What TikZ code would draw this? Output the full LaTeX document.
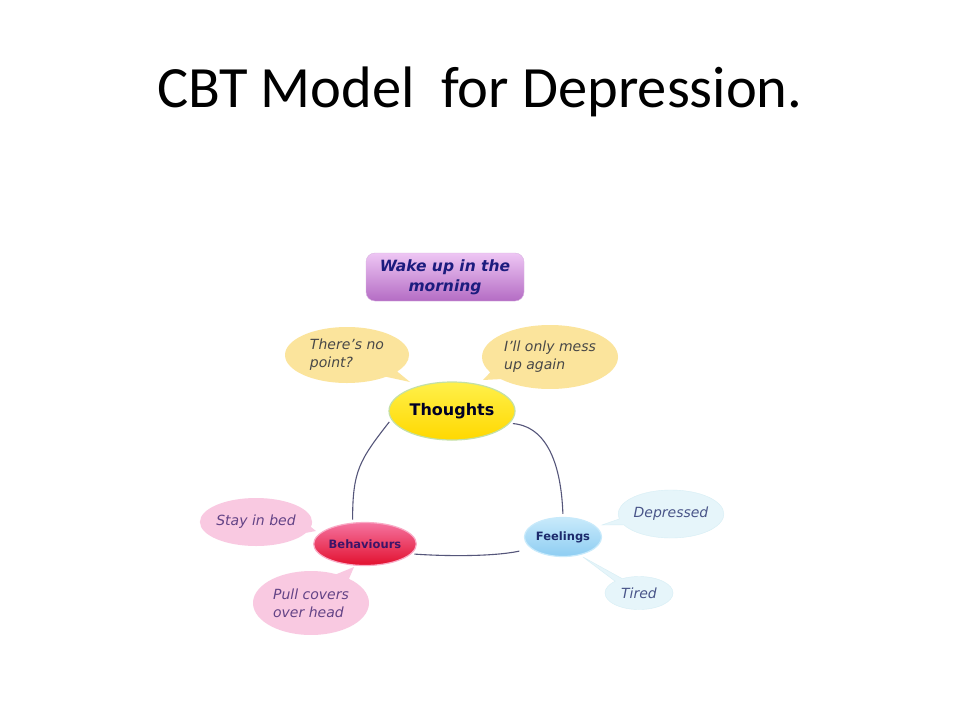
\documentclass[tikz,border=0pt]{standalone}
\usepackage{fontspec}
\setmainfont{DejaVu Sans}
\newfontfamily\titlefont{Carlito}
\usetikzlibrary{shapes.geometric, shapes.callouts}

\definecolor{wakeTop}{HTML}{EEC6F4}
\definecolor{wakeBottom}{HTML}{B46CC4}
\definecolor{wakeText}{HTML}{1C1C7E}
\definecolor{thoughtTop}{HTML}{FFF04A}
\definecolor{thoughtBottom}{HTML}{FFD800}
\definecolor{thoughtRing}{HTML}{C4E0A6}
\definecolor{behavTop}{HTML}{F573A0}
\definecolor{behavBottom}{HTML}{E2102E}
\definecolor{behavText}{HTML}{3C1468}
\definecolor{feelTop}{HTML}{C8EAFB}
\definecolor{feelBottom}{HTML}{8ECDF2}
\definecolor{feelText}{HTML}{1C2A6C}
\definecolor{yellowBubble}{HTML}{FBE49C}
\definecolor{pinkBubble}{HTML}{F9C9E1}
\definecolor{blueBubble}{HTML}{E6F5FA}
\definecolor{blueEdge}{HTML}{D6EEF5}
\definecolor{linkGray}{HTML}{55567A}

\tikzset{
	hub/.style={ellipse, line width=1.2pt, inner sep=0pt},
	bubble/.style={ellipse callout, inner sep=0pt, align=left,
		font=\itshape\fontsize{14}{18}\selectfont},
	link/.style={draw=linkGray, line width=1.1pt, shorten >=3pt, shorten <=3pt}
}

\begin{document}
\begin{tikzpicture}[x=1pt, y=-1pt]
	\useasboundingbox[fill=white] (0,0) rectangle (960,720);

	\node[anchor=base, font=\titlefont\fontsize{58.5}{62}\selectfont] (title) at (480,107) {CBT Model\ \ for Depression.};

	\node[rectangle, rounded corners=9pt, top color=wakeTop, bottom color=wakeBottom, draw=wakeBottom!50,
		minimum width=158pt, minimum height=48pt, align=center, text=wakeText,
		font=\bfseries\itshape\fontsize{15.5}{20}\selectfont] (wake) at (445,277) {Wake up in the\\morning};

	% Centres
	\node[hub, top color=thoughtTop, bottom color=thoughtBottom, draw=thoughtRing,
		minimum width=126pt, minimum height=58pt, text=black!85!blue,
		font=\bfseries\fontsize{16}{18}\selectfont] (thoughts) at (452,411) {Thoughts};
	\node[hub, top color=behavTop, bottom color=behavBottom, draw=behavTop!60,
		minimum width=94pt, minimum height=43pt, text=behavText,
		font=\bfseries\fontsize{11.5}{13}\selectfont] (behaviours) at (365,544) {Behaviours};
	\node[hub, top color=feelTop, bottom color=feelBottom, draw=feelTop,
		minimum width=77pt, minimum height=39pt, text=feelText,
		font=\bfseries\fontsize{11.5}{13}\selectfont] (feelings) at (563,537) {Feelings};

	% Tips of the bubbles
	\coordinate (tipNoPoint) at (410,382);
	\coordinate (tipMess) at (483,380);
	\coordinate (tipBed) at (316,531);
	\coordinate (tipCovers) at (354,567);
	\coordinate (tipDepressed) at (602,525);
	\coordinate (tipTired) at (583,557);

	% Bubbles
	\node[bubble, fill=yellowBubble, text=black!72, minimum width=124pt, minimum height=56pt,
		callout absolute pointer={(tipNoPoint)}] (nopoint) at (347,355) {There's no\\point?};
	\node[bubble, fill=yellowBubble, text=black!72, minimum width=136pt, minimum height=64pt,
		callout absolute pointer={(tipMess)}] (mess) at (550,357) {I'll only mess\\up again};
	\node[bubble, fill=pinkBubble, text=behavText!80, minimum width=110pt, minimum height=48pt,
		callout absolute pointer={(tipBed)}] (bed) at (256,522) {Stay in bed};
	\node[bubble, fill=pinkBubble, text=behavText!80, minimum width=116pt, minimum height=64pt,
		callout absolute pointer={(tipCovers)}] (covers) at (311,603) {Pull covers\\over head};
	\node[bubble, fill=blueBubble, draw=blueEdge, text=feelText!80, minimum width=96pt, minimum height=48pt,
		callout absolute pointer={(tipDepressed)}] (depressed) at (671,514) {Depressed};
	\node[bubble, fill=blueBubble, draw=blueEdge, text=feelText!80, minimum width=68pt, minimum height=33pt,
		callout absolute pointer={(tipTired)}] (tired) at (639,593) {Tired};

	% Cycle
	\draw[link] (thoughts.-12) to[out=-5, in=92] (feelings.north);
	\draw[link] (thoughts.188) to[out=-128, in=90, looseness=1.2] (behaviours.120);
	\draw[link, shorten >=12pt] (behaviours.-12) to[out=-4, in=192, looseness=0.8] (feelings.-160);
\end{tikzpicture}
\end{document}
